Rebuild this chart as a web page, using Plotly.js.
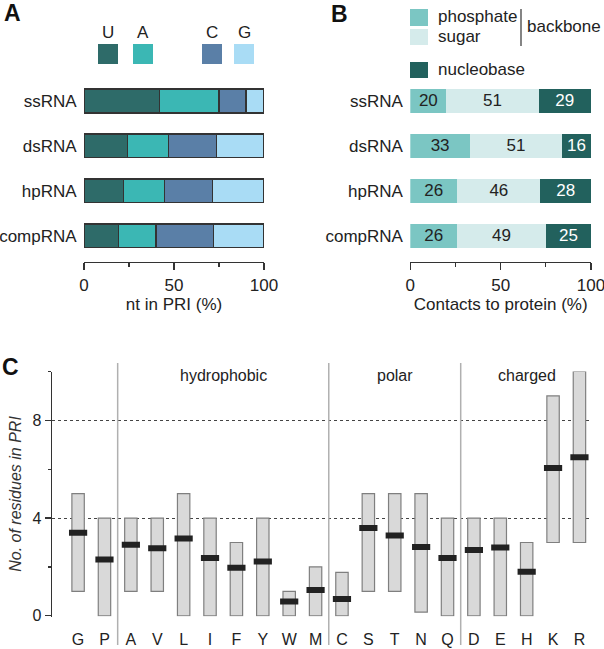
<!DOCTYPE html>
<html>
<head>
<meta charset="utf-8">
<script src="https://cdn.plot.ly/plotly-3.0.1.min.js"></script>
<style>html,body{margin:0;padding:0;background:#fff;}#chart{width:604px;height:649px;}</style>
</head>
<body>
<div id="chart"></div>
<script>
// ---------- DATA ----------
const rnaTypes = ['ssRNA', 'dsRNA', 'hpRNA', 'compRNA'];
// Panel A: nucleotide composition in PRI (%)
const ntNames = ['U', 'A', 'C', 'G'];
const ntU = [42, 24, 22, 19];
const ntA = [33, 23, 22.5, 21];
const ntC = [15, 26.5, 27, 32];
const ntG = [10, 26.5, 28.5, 28];
// Panel B: contacts to protein (%)
const contactNames = ['phosphate', 'sugar', 'nucleobase'];
const phosphate = [20, 33, 26, 26];
const sugar = [51, 51, 46, 49];
const nucleobase = [29, 16, 28, 25];
// Panel C: residues in PRI
const residues = ['G','P','A','V','L','I','F','Y','W','M','C','S','T','N','Q','D','E','H','K','R'];
const resMin = [1, 0, 1, 1, 0, 0, 0, 0, 0, 0, 0, 1, 1, 0.15, 0, 0, 0, 0, 3, 3];
const resMax = [5, 4, 4, 4, 5, 4, 3, 4, 1, 2, 1.78, 5, 5, 5, 4, 4, 4, 3, 9, 10];
const resMedian = [3.4, 2.3, 2.91, 2.76, 3.16, 2.36, 1.97, 2.22, 0.58, 1.05, 0.69, 3.59, 3.29, 2.82, 2.36, 2.69, 2.79, 1.8, 6.05, 6.49];
const groupNames = ['', 'hydrophobic', 'polar', 'charged'];
const groupStarts = ['G', 'A', 'C', 'D'];

// ---------- STYLE ----------
const FONT = 'Liberation Sans, Arial, Helvetica, sans-serif';
const TXT = '#222';
const ntColors = ['#2e6b69', '#3bb7b4', '#5a7fa7', '#a9dcf5'];
const contactColors = ['#7bc6c3', '#d5ebeb', '#22615d'];
const contactText = ['#222', '#222', '#ffffff'];
const W = 604, H = 649;
const px = x => x / W;
const py = y => 1 - y / H;

const traces = [];
const ntData = [ntU, ntA, ntC, ntG];
ntNames.forEach((n, i) => traces.push({
  type: 'bar', orientation: 'h', name: n, y: rnaTypes, x: ntData[i],
  xaxis: 'x', yaxis: 'y', width: 0.53,
  marker: {color: ntColors[i], line: {color: '#333', width: 1.2}},
  hoverinfo: 'skip', showlegend: false
}));
const cData = [phosphate, sugar, nucleobase];
contactNames.forEach((n, i) => traces.push({
  type: 'bar', orientation: 'h', name: n, y: rnaTypes, x: cData[i],
  xaxis: 'x2', yaxis: 'y2', width: 0.53,
  marker: {color: contactColors[i], line: {width: 0}},
  text: cData[i].map(String), textposition: 'inside', insidetextanchor: 'middle',
  textangle: 0, textfont: {family: FONT, size: 17, color: contactText[i]},
  hoverinfo: 'skip', showlegend: false
}));
// Panel C range boxes
traces.push({
  type: 'box', x: residues, q1: resMin, q3: resMax, median: resMedian,
  lowerfence: resMin, upperfence: resMax, xaxis: 'x3', yaxis: 'y3',
  width: 0.47, whiskerwidth: 0, fillcolor: '#d9d9d9',
  line: {color: '#7f7f7f', width: 1.2}, hoverinfo: 'skip', showlegend: false
});
traces.push({
  type: 'scatter', mode: 'markers', x: residues, y: resMedian, xaxis: 'x3', yaxis: 'y3',
  marker: {symbol: 'line-ew', size: 13, color: '#222', line: {color: '#222', width: 6}},
  hoverinfo: 'skip', showlegend: false
});

const shapes = [], annotations = [];
// panel letters
[['A', 2, 13], ['B', 329, 14], ['C', 0, 367]].forEach(([t, x, y]) => annotations.push({
  text: '<b>' + t + '</b>', xref: 'paper', yref: 'paper', x: px(x), y: py(y),
  xanchor: 'left', yanchor: 'middle', showarrow: false, font: {family: FONT, size: 23, color: '#111'}
}));
// Legend A
const legA = [98, 133, 202, 234];
ntNames.forEach((n, i) => {
  shapes.push({type: 'rect', xref: 'paper', yref: 'paper', x0: px(legA[i]), x1: px(legA[i] + 20),
    y0: py(64), y1: py(44), fillcolor: ntColors[i], line: {width: 0}});
  annotations.push({text: n, xref: 'paper', yref: 'paper', x: px(legA[i] + 10), y: py(32),
    xanchor: 'center', yanchor: 'middle', showarrow: false, font: {family: FONT, size: 17, color: TXT}});
});
// Legend B
const legBy = [[9, 26], [29, 45], [62, 78]];
contactNames.forEach((n, i) => {
  shapes.push({type: 'rect', xref: 'paper', yref: 'paper', x0: px(410), x1: px(428),
    y0: py(legBy[i][1]), y1: py(legBy[i][0]), fillcolor: contactColors[i], line: {width: 0}});
  annotations.push({text: n, xref: 'paper', yref: 'paper', x: px(436), y: py((legBy[i][0] + legBy[i][1]) / 2 - 0.5),
    xanchor: 'left', yanchor: 'middle', showarrow: false, font: {family: FONT, size: 17, color: TXT}});
});
shapes.push({type: 'line', xref: 'paper', yref: 'paper', x0: px(521), x1: px(521), y0: py(9), y1: py(46),
  line: {color: '#333', width: 1.2}});
annotations.push({text: 'backbone', xref: 'paper', yref: 'paper', x: px(525), y: py(26),
  xanchor: 'left', yanchor: 'middle', showarrow: false, font: {family: FONT, size: 17, color: TXT}});
// Panel C group separators & labels
groupStarts.forEach((s, gi) => {
  const start = residues.indexOf(s);
  const end = gi + 1 < groupStarts.length ? residues.indexOf(groupStarts[gi + 1]) - 1 : residues.length - 1;
  if (gi > 0) shapes.push({type: 'line', xref: 'x3', yref: 'paper', x0: start - 0.5, x1: start - 0.5,
    y0: py(645), y1: py(363), line: {color: '#b0b0b0', width: 1.5}});
  if (groupNames[gi]) annotations.push({text: groupNames[gi], xref: 'x3', yref: 'paper',
    x: (start + end) / 2, y: py(375), xanchor: 'center', yanchor: 'middle', showarrow: false,
    font: {family: FONT, size: 16, color: TXT}});
});

const barX = (d0, d1, title) => ({
  domain: [d0, d1], range: [0, 100], tickvals: [0, 50, 100], ticks: 'outside', ticklen: 7,
  tickcolor: '#333', tickwidth: 1.2, showline: true, linecolor: '#333', linewidth: 1.2,
  minor: {dtick: 25, ticks: 'outside', ticklen: 4, tickcolor: '#333', tickwidth: 1.2},
  showgrid: false, zeroline: false, tickfont: {family: FONT, size: 17, color: TXT},
  ticklabeloverflow: 'allow',
  title: {text: title, standoff: 4, font: {family: FONT, size: 17, color: TXT}}, fixedrange: true
});
const barY = (anchor) => ({
  domain: [py(262), py(78.5)], type: 'category', categoryarray: rnaTypes, range: [3.58, -0.5],
  anchor: anchor, showline: false, showgrid: false, zeroline: false, ticks: 'outside', ticklen: 3,
  tickcolor: 'rgba(0,0,0,0)', tickfont: {family: FONT, size: 17, color: TXT}, fixedrange: true
});

const layout = {
  width: W, height: H, margin: {l: 0, r: 0, t: 0, b: 0}, paper_bgcolor: '#fff', plot_bgcolor: 'rgba(0,0,0,0)',
  barmode: 'stack', bargap: 0, showlegend: false, font: {family: FONT, color: TXT},
  uniformtext: {mode: 'show', minsize: 17},
  xaxis: Object.assign(barX(px(84), px(264), 'nt in PRI (%)'), {anchor: 'y'}),
  yaxis: barY('x'),
  xaxis2: Object.assign(barX(px(410.3), px(591), 'Contacts to protein (%)'), {anchor: 'y2'}),
  yaxis2: barY('x2'),
  xaxis3: {domain: [px(51.7), px(590)], anchor: 'y3', type: 'category', categoryarray: residues,
    range: [-1, 19.4], showline: false, showgrid: false, zeroline: false, ticks: 'outside', ticklen: 8,
    tickcolor: 'rgba(0,0,0,0)', tickfont: {family: FONT, size: 16, color: TXT}, fixedrange: true},
  yaxis3: {domain: [py(616.5), py(371.5)], anchor: 'x3', range: [-0.03, 10], tickvals: [0, 4, 8],
    ticks: 'outside', ticklen: 6, tickcolor: '#333', tickwidth: 1.2, showline: true, linecolor: '#333', linewidth: 1.2,
    minor: {dtick: 2, tick0: 0, ticks: 'outside', ticklen: 3, tickcolor: '#333', tickwidth: 1.2, showgrid: false},
    showgrid: true, gridcolor: '#444', griddash: 'dot', gridwidth: 1, zeroline: false,
    tickfont: {family: FONT, size: 16, color: TXT},
    title: {text: '<i>No. of residues in PRI</i>', standoff: 6, font: {family: FONT, size: 16, color: '#333'}},
    fixedrange: true},
  shapes: shapes, annotations: annotations
};
Plotly.newPlot('chart', traces, layout, {staticPlot: true, displayModeBar: false});
</script>
</body>
</html>
